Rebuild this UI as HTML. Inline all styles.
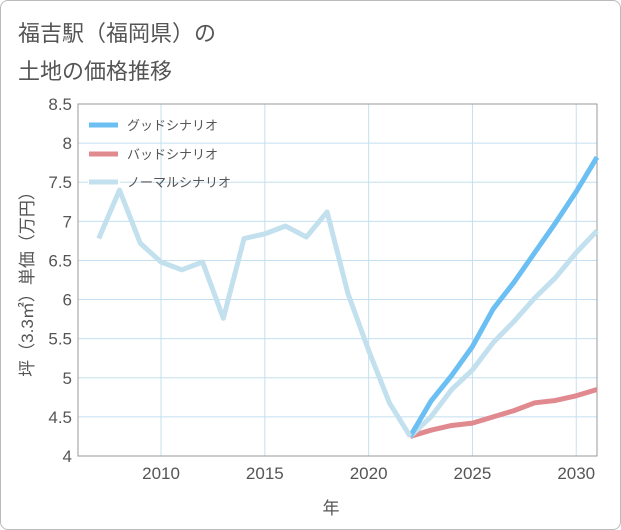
<!DOCTYPE html>
<html><head><meta charset="utf-8"><style>
body{margin:0;background:#fff;}
#card{position:absolute;left:0;top:0;width:619px;height:528px;border:1px solid #bbb;border-radius:8px;background:#fff;}
.t{position:absolute;left:18px;font:22px "Liberation Sans","Noto Sans CJK JP",sans-serif;color:#555;}
svg{position:absolute;left:0;top:0;}
text{font-family:"Liberation Sans","Noto Sans CJK JP",sans-serif;}
</style></head><body>
<div id="card"></div>
<div class="t" style="top:16px">福吉駅（福岡県）の</div>
<div class="t" style="top:54px">土地の価格推移</div>
<svg id="c" width="621" height="530"></svg>
<script>
const years=[2007,2008,2009,2010,2011,2012,2013,2014,2015,2016,2017,2018,2019,2020,2021,2022];
const normalHist=[6.78,7.4,6.72,6.48,6.38,6.48,5.76,6.78,6.84,6.94,6.8,7.12,6.08,5.35,4.68,4.25];
const futureYears=[2022,2023,2024,2025,2026,2027,2028,2029,2030,2031];
const goodVals=[4.25,4.7,5.03,5.4,5.88,6.22,6.6,6.98,7.38,7.82];
const badVals=[4.25,4.33,4.39,4.42,4.5,4.58,4.68,4.71,4.77,4.85];
const normalVals=[4.25,4.5,4.85,5.1,5.45,5.72,6.02,6.28,6.6,6.88];
const yTicks=[4,4.5,5,5.5,6,6.5,7,7.5,8,8.5];
const xTicks=[2010,2015,2020,2025,2030];
const L=78,R=597,T=104,B=456,x0=2006,x1=2031,y0=4,y1=8.5;
const X=v=>L+(v-x0)/(x1-x0)*(R-L), Y=v=>B-(v-y0)/(y1-y0)*(B-T);
const s=document.getElementById('c'),NS='http://www.w3.org/2000/svg';
function mk(t,a,p){const e=document.createElementNS(NS,t);for(const k in a)e.setAttribute(k,a[k]);(p||s).appendChild(e);return e;}
for(const v of yTicks){const g=mk('line',{x1:L,x2:R,y1:Y(v),y2:Y(v),stroke:'#c5dff0','stroke-width':1});


const t=mk('text',{x:L-6,y:Y(v)+6,'text-anchor':'end','font-size':17,fill:'#555'});t.textContent=v;

}
for(const v of xTicks){const g=mk('line',{x1:X(v),x2:X(v),y1:T,y2:B,stroke:'#c5dff0','stroke-width':1});


const t=mk('text',{x:X(v),y:B+23,'text-anchor':'middle','font-size':17,fill:'#555'});t.textContent=v;

}
const fr=mk('rect',{x:L,y:T,width:R-L,height:B-T,fill:'none',stroke:'#999','stroke-width':1});


function line(xs,ys,col,name){const p=mk('polyline',{points:xs.map((x,i)=>X(x)+','+Y(ys[i])).join(' '),fill:'none',stroke:col,'stroke-width':5,'stroke-linejoin':'round'});

}
line(futureYears,badVals,'#e08a90','bad-scenario-line');
line(futureYears,normalVals,'#c2e0ee','normal-scenario-line');
line(futureYears,goodVals,'#6bbff2','good-scenario-line');
line(years,normalHist,'#c2e0ee','historical-line');
const leg=[['グッドシナリオ','#6bbff2',125],['バッドシナリオ','#e08a90',154],['ノーマルシナリオ','#c2e0ee',182]];
for(const [n,c,y] of leg){const g=mk('g',{});


mk('rect',{x:88,y:y-6,width:32,height:10,fill:'#fff'},g);
mk('line',{x1:89,x2:118,y1:y,y2:y,stroke:c,'stroke-width':5},g);
const t=mk('text',{x:127,y:y+5,'font-size':13,fill:'#555'},g);t.textContent=n;}
const yt=mk('text',{x:0,y:0,'font-size':17,fill:'#555','text-anchor':'middle',transform:'translate(33,280) rotate(-90)'});yt.textContent='坪（3.3㎡）単価（万円）';


const xt=mk('text',{x:331,y:514,'font-size':17,fill:'#555','text-anchor':'middle'});xt.textContent='年';


</script>
</body></html>
